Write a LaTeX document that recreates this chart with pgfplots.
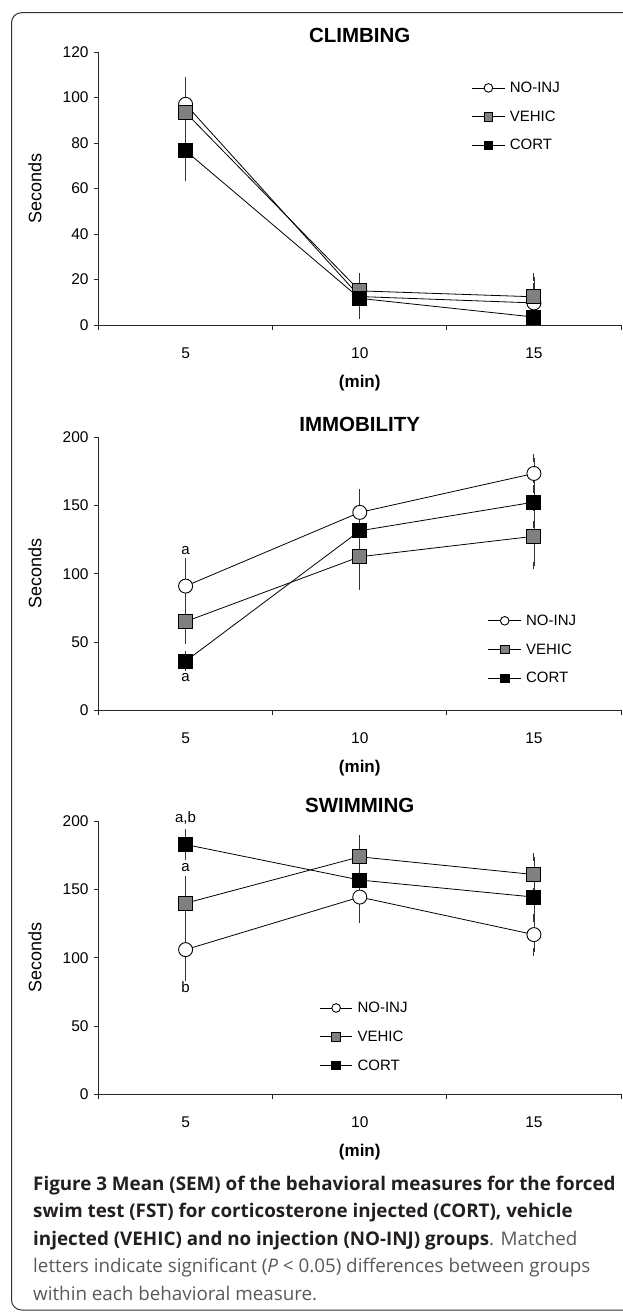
\documentclass[border=0pt]{standalone}
\usepackage{pgfplots}
\pgfplotsset{compat=1.18}
\usepackage{fontspec}
\setmainfont{Liberation Sans}
\newfontfamily\capfont{Open Sans}
\definecolor{vgray}{RGB}{128,128,128}
\definecolor{capdark}{RGB}{35,31,32}
\definecolor{capgray}{RGB}{88,89,91}
\pgfplotsset{
  every axis title/.style={},
  fst/.style={
    scale only axis, width=522.5pt, height=273pt,
    anchor=south west,
    xmin=0, xmax=3, ymin=0,
    axis lines=left,
    axis line style={-, line width=0.9pt, black!85},
    xtick={0,1,2,3}, xticklabels={},
    extra x ticks={0.5,1.5,2.5}, extra x tick labels={5,10,15},
    extra x tick style={major tick length=0pt, xticklabel style={anchor=base, yshift=-33pt}},
    tick align=outside, major tick length=4.7pt,
    tick style={line width=0.9pt, black!85},
    ticklabel style={font=\fontsize{15.5}{18}\selectfont},
    yticklabel style={anchor=east, inner sep=0pt, xshift=-5pt},
    /pgf/number format/assume math mode=true,
    title style={font=\bfseries\fontsize{20.5}{24}\selectfont, anchor=base},
    xlabel={(min)},
    xlabel style={font=\bfseries\fontsize{17}{20}\selectfont, at={(axis description cs:0.5,-0.2127)}, anchor=center},
    ylabel={Seconds},
    ylabel style={font=\fontsize{18}{22}\selectfont, at={(axis description cs:-0.1215,0.5)}, anchor=center},
    legend cell align=left,
    legend style={draw=none, fill=none, inner sep=0pt, outer sep=0pt, anchor=north west,
      font=\fontsize{15}{18}\selectfont, row sep=16.8pt, column sep=4.7pt, nodes={inner sep=0pt}},
    legend image code/.code={\draw[#1, mark repeat=2, mark phase=2, mark size=4.3pt] plot coordinates {(0pt,0pt) (16.3pt,0pt) (32.6pt,0pt)};},
    clip=false,
  },
  ebars/.style={error bars/.cd, y dir=both, y explicit,
    error bar style={line width=0.6pt, black!80},
    error mark options={mark size=3.8pt, line width=0.9pt, black!80}},
  noinj/.style={black, line width=0.8pt, mark=*, mark size=7pt,
    mark options={fill=white, draw=black, line width=0.9pt, solid}, ebars},
  vehic/.style={black, line width=0.8pt, mark=square*, mark size=7pt,
    mark options={fill=vgray, draw=black, line width=0.9pt, solid}, ebars},
  cort/.style={black, line width=0.8pt, mark=square*, mark size=7pt,
    mark options={fill=black, draw=black, line width=0.9pt, solid}, ebars},
}
\begin{document}
\begin{tikzpicture}
% frame
\draw[line width=1pt, black!80, rounded corners=10pt] (660pt,-12.7pt) -- (11.5pt,-12.7pt) -- (11.5pt,-1310pt) -- (660pt,-1310pt);

% ---------- CLIMBING ----------
\begin{axis}[fst, at={(98.5pt,-325pt)}, ymax=120, ytick={0,20,...,120},
  title={CLIMBING}, title style={at={(axis description cs:0.5,1.0341)}},
  legend style={at={(axis description cs:0.7143,0.8904)}}]
\addplot[noinj] coordinates {(0.5,97) +- (0,10.5) (1.5,12.5) +- (0,5.5) (2.5,9.7) +- (0,6.9)};
\addlegendentry{NO-INJ}
\addplot[vehic] coordinates {(0.5,93.4) +- (0,7) (1.5,15) +- (0,6) (2.5,12.4) +- (0,8.8)};
\addlegendentry{VEHIC}
\addplot[cort] coordinates {(0.5,76.6) +- (0,11.7) (1.5,11.7) +- (0,7.3) (2.5,3.5) +- (0,2)};
\addlegendentry{CORT}
\end{axis}

% ---------- IMMOBILITY ----------
\begin{axis}[fst, at={(98.5pt,-710.3pt)}, ymax=200, ytick={0,50,...,200},
  title={IMMOBILITY}, title style={at={(axis description cs:0.5,1.0205)}},
  legend style={at={(axis description cs:0.7455,0.3498)}}]
\addplot[noinj] coordinates {(0.5,91) +- (0,17.8) (1.5,145) +- (0,14) (2.5,173.5) +- (0,11.5)};
\addlegendentry{NO-INJ}
\addplot[vehic] coordinates {(0.5,65) +- (0,13.8) (1.5,112.5) +- (0,21.5) (2.5,127.5) +- (0,21.5)};
\addlegendentry{VEHIC}
\addplot[cort] coordinates {(0.5,36) +- (0,4.5) (1.5,131.5) +- (0,26) (2.5,152.5) +- (0,16.5)};
\addlegendentry{CORT}
\node[font=\fontsize{15}{18}\selectfont] at (axis cs:0.5,117.2) {a};
\node[font=\fontsize{15}{18}\selectfont] at (axis cs:0.5,23.7) {a};
\end{axis}

% ---------- SWIMMING ----------
\begin{axis}[fst, at={(98.5pt,-1094.3pt)}, ymax=200, ytick={0,50,...,200},
  title={SWIMMING}, title style={at={(axis description cs:0.5,1.0331)}},
  legend style={at={(axis description cs:0.4228,0.3382)}}]
\addplot[noinj] coordinates {(0.5,106) +- (0,20) (1.5,144.5) +- (0,16) (2.5,117) +- (0,12.6)};
\addlegendentry{NO-INJ}
\addplot[vehic] coordinates {(0.5,140) +- (0,17.5) (1.5,174) +- (0,13) (2.5,161) +- (0,12.7)};
\addlegendentry{VEHIC}
\addplot[cort] coordinates {(0.5,183) +- (0,8.5) (1.5,157) +- (0,24) (2.5,144.5) +- (0,15.5)};
\addlegendentry{CORT}
\node[font=\fontsize{15}{18}\selectfont] at (axis cs:0.5,202.4) {a,b};
\node[font=\fontsize{15}{18}\selectfont] at (axis cs:0.5,166.2) {a};
\node[font=\fontsize{15}{18}\selectfont] at (axis cs:0.5,78.7) {b};
\end{axis}

% ---------- caption ----------
\begin{scope}[every node/.style={anchor=base west, inner sep=0pt, font=\capfont\fontsize{18.8}{22}\selectfont}]
\node[text=capdark] at (33pt,-1190pt) {\textbf{Figure 3 Mean (SEM) of the behavioral measures for the forced}};
\node[text=capdark] at (33pt,-1217.5pt) {\textbf{swim test (FST) for corticosterone injected (CORT), vehicle}};
\node at (33pt,-1245pt) {\textcolor{capdark}{\textbf{injected (VEHIC) and no injection (NO-INJ) groups}}\textcolor{capgray}{. Matched}};
\node[text=capgray] at (33pt,-1272.5pt) {letters indicate significant (\textit{P} < 0.05) differences between groups};
\node[text=capgray] at (33pt,-1300pt) {within each behavioral measure.};
\end{scope}

\pgfresetboundingbox
\path[use as bounding box] (0pt,0pt) rectangle (622pt,-1313pt);
\end{tikzpicture}
\end{document}
